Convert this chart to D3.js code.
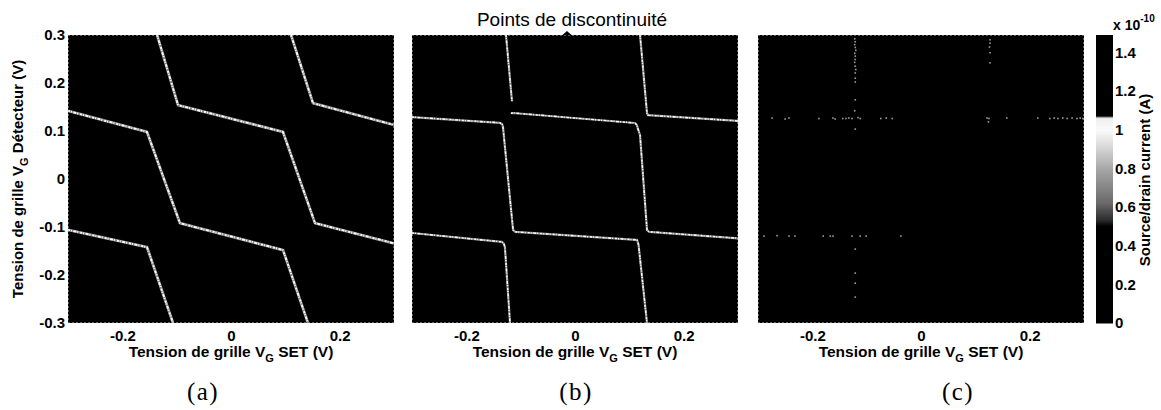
<!DOCTYPE html>
<html>
<head>
<meta charset="utf-8">
<script src="https://cdn.jsdelivr.net/npm/d3@7"></script>
<style>
  body { margin: 0; background: #fff; }
  svg { display: block; }
  text { font-family: "Liberation Sans", Arial, Helvetica, sans-serif; fill: #000; }
</style>
</head>
<body>
<svg id="fig" width="1161" height="410"></svg>
<script>
// Axis ticks (gate voltages in V, current in units of 1e-10 A)
const xTicks = [-0.2, 0, 0.2];
const yTicks = [0.3, 0.2, 0.1, 0, -0.1, -0.2, -0.3];
const cbTicks = [0, 0.2, 0.4, 0.6, 0.8, 1, 1.2, 1.4];
const cbMax = 1.49;
const vRange = [-0.3, 0.3];

// (a) raw stability diagram: current ridges as [V_SET, V_det] polylines
const ridgesA = [
  [[-0.136, 0.3], [-0.0975, 0.154], [0.0957, 0.098], [0.1546, -0.092], [0.3, -0.134]],
  [[-0.3, 0.142], [-0.1546, 0.098], [-0.0939, -0.092], [0.0957, -0.148], [0.1417, -0.3]],
  [[0.1105, 0.3], [0.1509, 0.158], [0.3, 0.1125]],
  [[-0.3, -0.106], [-0.1546, -0.142], [-0.1067, -0.3]]
];

// (b) compensated diagram: ridges with discontinuities at the crossings
const ridgesB = [
  [[-0.127, 0.3], [-0.116, 0.162]],
  [[-0.118, 0.137], [-0.114, 0.1375], [0.1105, 0.1167], [0.114, 0.112], [0.116, 0.104], [0.1197, 0.0917], [0.1325, -0.106], [0.136, -0.110], [0.3, -0.1235]],
  [[-0.3, 0.129], [-0.138, 0.117], [-0.134, 0.114], [-0.1325, 0.108], [-0.114, -0.106], [-0.1104, -0.110], [0.1141, -0.127], [0.1155, -0.131], [0.117, -0.1375], [0.1325, -0.3]],
  [[0.1197, 0.3], [0.1325, 0.1375], [0.134, 0.133], [0.3, 0.121]],
  [[-0.3, -0.1125], [-0.1344, -0.131], [-0.131, -0.135], [-0.129, -0.1417], [-0.1196, -0.3]]
];

// (c) difference map: isolated residual current points [V_SET, V_det]
const residualC = [
  [-0.122, 0.292], [-0.121, 0.286], [-0.122, 0.280], [-0.121, 0.274], [-0.120, 0.268],
  [-0.122, 0.262], [-0.121, 0.256], [-0.121, 0.249], [-0.122, 0.243], [-0.121, 0.235],
  [-0.120, 0.228], [-0.121, 0.221], [-0.121, 0.210], [-0.121, 0.202], [-0.121, 0.165],
  [-0.122, 0.142], [-0.121, 0.104],
  [-0.274, 0.127], [-0.250, 0.125], [-0.243, 0.127], [-0.188, 0.126], [-0.162, 0.127],
  [-0.158, 0.125], [-0.144, 0.126], [-0.138, 0.126], [-0.133, 0.127], [-0.127, 0.126],
  [-0.116, 0.128], [-0.112, 0.126], [-0.074, 0.126], [-0.064, 0.127], [-0.053, 0.126],
  [0.127, 0.290], [0.127, 0.283], [0.126, 0.275], [0.127, 0.263], [0.127, 0.242],
  [0.1215, 0.127], [0.125, 0.126], [0.124, 0.119], [0.158, 0.127], [0.215, 0.127],
  [0.237, 0.126], [0.245, 0.127], [0.252, 0.126], [0.261, 0.127], [0.269, 0.126],
  [0.278, 0.127], [0.287, 0.126], [0.293, 0.127], [0.298, 0.126],
  [-0.289, -0.119], [-0.265, -0.118], [-0.243, -0.119], [-0.232, -0.119], [-0.180, -0.119],
  [-0.167, -0.119], [-0.162, -0.119], [-0.127, -0.119], [-0.112, -0.119], [-0.101, -0.119],
  [-0.037, -0.119],
  [-0.121, -0.146], [-0.121, -0.196], [-0.121, -0.217], [-0.121, -0.246]
];

const svg = d3.select("#fig");
const plotTop = 35, plotBottom = 323;
const y = d3.scaleLinear().domain(vRange).range([plotBottom, plotTop]);
// plain hyphen-minus tick labels, "0" without decimals
const fmtV = d => d === 0 ? "0" : d.toFixed(1);

const panels = [
  { left: 68,  ridges: ridgesA, width: 2.8, label: "(a)", labelX: 203, yAxis: true },
  { left: 412, ridges: ridgesB, width: 2.2, label: "(b)", labelX: 576, yAxis: false },
  { left: 758, dots: residualC,             label: "(c)", labelX: 958, yAxis: false }
];
const plotW = 326;

panels.forEach((p, i) => {
  const x = d3.scaleLinear().domain(vRange).range([p.left, p.left + plotW]);
  const g = svg.append("g");

  g.append("clipPath").attr("id", "clip" + i)
    .append("rect").attr("x", p.left).attr("y", plotTop)
    .attr("width", plotW).attr("height", plotBottom - plotTop);

  // black background (zero current)
  g.append("rect").attr("x", p.left).attr("y", plotTop)
    .attr("width", plotW).attr("height", plotBottom - plotTop).attr("fill", "#000");

  const body = g.append("g").attr("clip-path", `url(#clip${i})`);
  const line = d3.line().x(d => x(d[0])).y(d => y(d[1]));

  if (p.ridges) {
    body.selectAll("path.base").data(p.ridges).join("path")
      .attr("class", "base").attr("d", line)
      .attr("fill", "none").attr("stroke", "#8c8c8c")
      .attr("stroke-width", p.width).attr("stroke-linejoin", "round");
    body.selectAll("path.hi").data(p.ridges).join("path")
      .attr("class", "hi").attr("d", line)
      .attr("fill", "none").attr("stroke", "#fff")
      .attr("stroke-width", p.width * 0.65)
      .attr("stroke-dasharray", "2,1,1,1.5,3,1,1,2")
      .attr("stroke-linejoin", "round");
  }
  if (p.dots) {
    body.selectAll("rect.dot").data(p.dots).join("rect")
      .attr("class", "dot")
      .attr("x", d => x(d[0]) - 0.8).attr("y", d => y(d[1]) - 0.8)
      .attr("width", 1.6).attr("height", 1.6).attr("fill", "#9a9a9a");
  }

  // faint axes box
  g.append("rect").attr("x", p.left + 0.5).attr("y", plotTop + 0.5)
    .attr("width", plotW - 1).attr("height", plotBottom - plotTop - 1)
    .attr("fill", "none").attr("stroke", "#bbb").attr("stroke-width", 1)
    .attr("stroke-dasharray", "1,3");

  // x axis
  const xa = g.append("g").attr("transform", `translate(0,${plotBottom})`)
    .call(d3.axisBottom(x).tickValues(xTicks).tickSize(0).tickPadding(7).tickFormat(fmtV));
  xa.select(".domain").remove();
  xa.selectAll("text").attr("font-size", 15).attr("font-weight", "bold")
    .attr("font-family", "Liberation Sans, Arial, sans-serif");

  if (p.yAxis) {
    const ya = g.append("g").attr("transform", `translate(${p.left},0)`)
      .call(d3.axisLeft(y).tickValues(yTicks).tickSize(0).tickPadding(3).tickFormat(fmtV));
    ya.select(".domain").remove();
    ya.selectAll("text").attr("font-size", 15).attr("font-weight", "bold")
      .attr("font-family", "Liberation Sans, Arial, sans-serif");

    const yl = svg.append("text")
      .attr("transform", "translate(23,179) rotate(-90)")
      .attr("text-anchor", "middle").attr("font-size", 15).attr("font-weight", "bold");
    yl.append("tspan").text("Tension de grille V");
    yl.append("tspan").attr("dy", 5).attr("font-size", 11).text("G");
    yl.append("tspan").attr("dy", -5).text(" Détecteur (V)");
  }

  // x label
  const xl = svg.append("text")
    .attr("x", p.left + plotW / 2).attr("y", 357)
    .attr("text-anchor", "middle").attr("font-size", 15.5).attr("font-weight", "bold");
  xl.append("tspan").text("Tension de grille V");
  xl.append("tspan").attr("dy", 5).attr("font-size", 11).text("G");
  xl.append("tspan").attr("dy", -5).text(" SET (V)");

  // sub-figure caption
  svg.append("text").attr("x", p.labelX).attr("y", 400)
    .attr("text-anchor", "middle").attr("font-size", 25)
    .style("font-family", "'Liberation Serif', 'Times New Roman', serif")
    .attr("letter-spacing", 1.5).text(p.label);

  if (i === 1) {
    // title with pointer onto the compensated map
    svg.append("text").attr("x", 572).attr("y", 26)
      .attr("text-anchor", "middle").attr("font-size", 19).text("Points de discontinuité");
    const ax = x(-0.0147);
    svg.append("path")
      .attr("d", `M${ax - 4.5},${plotTop} L${ax},${plotTop - 4} L${ax + 4.5},${plotTop} Z`)
      .attr("fill", "#000");
  }
});

// colour bar
const cbX = 1096, cbW = 17;
const cy = d3.scaleLinear().domain([0, cbMax]).range([plotBottom, plotTop]);
const cbColor = d3.scaleLinear()
  .domain([0, 0.5, 0.53, 0.62, 0.8, 0.92, 1.0, 1.06, 1.07, cbMax])
  .range(["#000", "#000", "#2a2a2a", "#6a6a6a", "#a8a8a8", "#dcdcdc", "#fafafa", "#eeeeee", "#000", "#000"])
  .clamp(true);
const cbStep = cbMax / 288;
const steps = d3.range(0, cbMax, cbStep);
svg.append("g").selectAll("rect").data(steps).join("rect")
  .attr("x", cbX).attr("width", cbW)
  .attr("y", d => cy(d + cbStep)).attr("height", d => cy(d) - cy(d + cbStep) + 0.5)
  .attr("fill", d => cbColor(d));

const cba = svg.append("g").attr("transform", `translate(${cbX + cbW},0)`)
  .call(d3.axisRight(cy).tickValues(cbTicks).tickSize(0).tickPadding(2)
    .tickFormat(d => d3.format("~g")(d)));
cba.select(".domain").remove();
cba.selectAll("text").attr("font-size", 15).attr("font-weight", "bold")
  .attr("font-family", "Liberation Sans, Arial, sans-serif");

const ex = svg.append("text").attr("x", 1113).attr("y", 30)
  .attr("font-size", 14).attr("font-weight", "bold");
ex.append("tspan").text("x 10");
ex.append("tspan").attr("dy", -8).attr("font-size", 10).text("-10");

svg.append("text")
  .attr("transform", "translate(1150,180) rotate(-90)")
  .attr("text-anchor", "middle").attr("font-size", 15).attr("font-weight", "bold")
  .text("Source/drain current (A)");
</script>
</body>
</html>
